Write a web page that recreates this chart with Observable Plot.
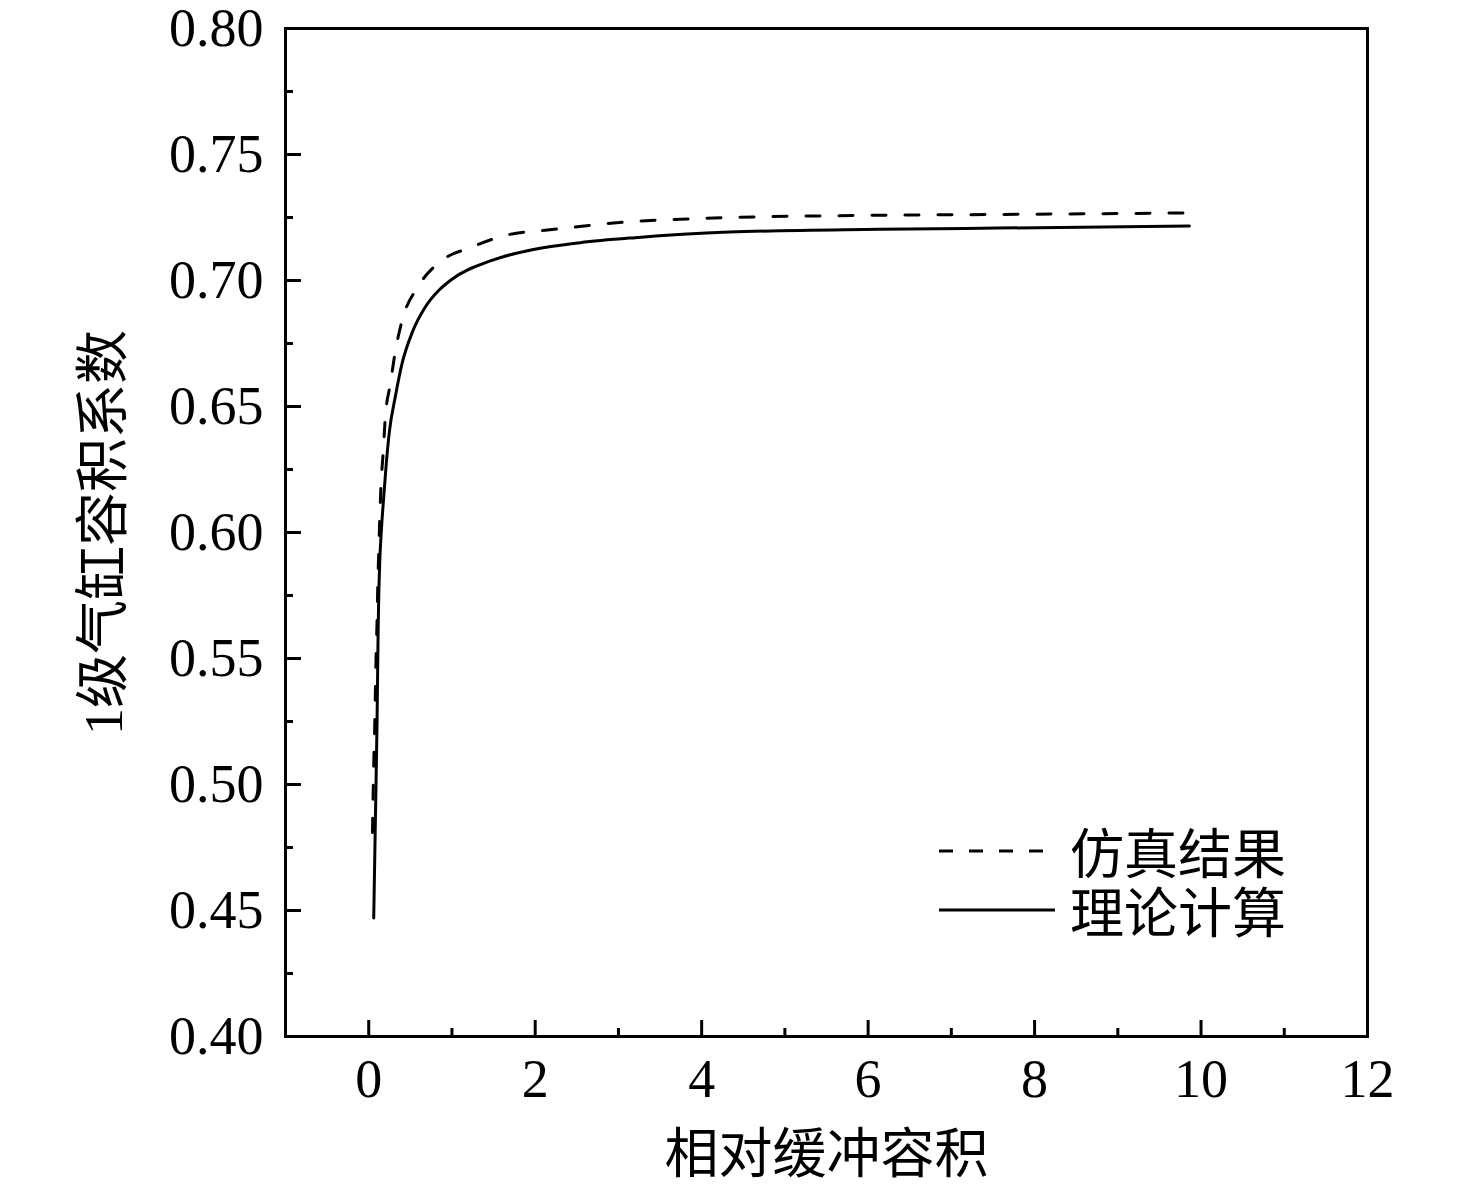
<!DOCTYPE html>
<html><head><meta charset="utf-8">
<script src="https://cdn.jsdelivr.net/npm/d3@7"></script>
<script src="https://cdn.jsdelivr.net/npm/@observablehq/plot@0.6"></script>
<style>
body{margin:0;background:#fff;}
#wrap{position:relative;width:1476px;height:1197px;}
.legend{position:absolute;left:938px;top:821px;font-family:"Liberation Serif","Noto Sans CJK SC",serif;font-size:54px;color:#000;}
.legend .row{display:flex;align-items:center;height:59px;}
.legend svg{margin-right:14px;}
</style></head><body><div id="wrap"></div>
<script>
const seriesNames = ["仿真结果", "理论计算"];
const simX = [0.045,0.053,0.06,0.072,0.08,0.089,0.10,0.108,0.12,0.132,0.148,0.172,0.20,0.26,0.32,0.40,0.58,0.64,0.88,1.24,1.64,2.2,2.56,2.87,3.97,6.13,7.56,9.8];
const simY = [0.481,0.496,0.508,0.523,0.537,0.552,0.565,0.578,0.592,0.605,0.619,0.631,0.646,0.659,0.672,0.684,0.697,0.700,0.708,0.7133,0.7179,0.7202,0.7215,0.7226,0.7246,0.7259,0.7262,0.7268];
const theoX = [0.06,0.08,0.10,0.113,0.12,0.132,0.152,0.18,0.21,0.25,0.32,0.40,0.53,0.68,0.84,1.0,1.48,1.98,2.54,3.2,4.33,6.13,7.56,9.86];
const theoY = [0.447,0.486,0.525,0.561,0.574,0.588,0.601,0.614,0.627,0.6405,0.654,0.667,0.680,0.6895,0.696,0.7005,0.708,0.7123,0.715,0.717,0.7192,0.7203,0.7208,0.7216];
const xTicks = [0,2,4,6,8,10,12];
const xMinorTicks = [-1,1,3,5,7,9,11];
const yTicks = [0.40,0.45,0.50,0.55,0.60,0.65,0.70,0.75,0.80];
const yMinorTicks = [0.425,0.475,0.525,0.575,0.625,0.675,0.725,0.775];
const xLabel = "相对缓冲容积";
const yLabel = "1级气缸容积系数";

const sim = simX.map((x,i)=>({x, y: simY[i]}));
const theo = theoX.map((x,i)=>({x, y: theoY[i]}));

const font = '"Liberation Serif","Noto Sans CJK SC",serif';
const chart = Plot.plot({
  width: 1476, height: 1197,
  marginLeft: 285, marginRight: 109, marginTop: 28, marginBottom: 161,
  style: {fontFamily: font, fontSize: "54px", color: "#000", background: "#fff"},
  x: {domain: [-1, 12]},
  y: {domain: [0.40, 0.80]},
  marks: [
    Plot.axisX({ticks: xTicks, tickSize: -16, tickPadding: 38, strokeWidth: 3, fontSize: 54, tickFormat: d3.format("d"), label: xLabel, labelAnchor: "center", labelArrow: "none", labelOffset: 136, fontFamily: font}),
    Plot.axisX({ticks: xMinorTicks, tickSize: -8, strokeWidth: 3, tickFormat: () => "", label: null}),
    Plot.axisY({ticks: yTicks, tickSize: -16, tickPadding: 38, strokeWidth: 3, fontSize: 54, tickFormat: d3.format(".2f"), label: yLabel, labelAnchor: "center", labelArrow: "none", labelOffset: 202, fontFamily: font}),
    Plot.axisY({ticks: yMinorTicks, tickSize: -8, strokeWidth: 3, tickFormat: () => "", label: null}),
    Plot.frame({stroke: "#000", strokeWidth: 3}),
    Plot.line(sim, {x: "x", y: "y", stroke: "#000", strokeWidth: 3, strokeDasharray: "14,19", curve: "monotone-x"}),
    Plot.line(theo, {x: "x", y: "y", stroke: "#000", strokeWidth: 3, curve: "monotone-x"})
  ]
});
const wrap = document.getElementById("wrap");
wrap.appendChild(chart);

const legend = document.createElement("div");
legend.className = "legend";
const dashes = ["14,16", null];
seriesNames.forEach((name, i) => {
  const row = document.createElement("div");
  row.className = "row";
  row.innerHTML = `<svg width="118" height="10"><line x1="1" y1="5" x2="117" y2="5" stroke="#000" stroke-width="3" ${dashes[i] ? `stroke-dasharray="${dashes[i]}"` : ""}/></svg><span>${name}</span>`;
  legend.appendChild(row);
});
wrap.appendChild(legend);
</script>
</body></html>
